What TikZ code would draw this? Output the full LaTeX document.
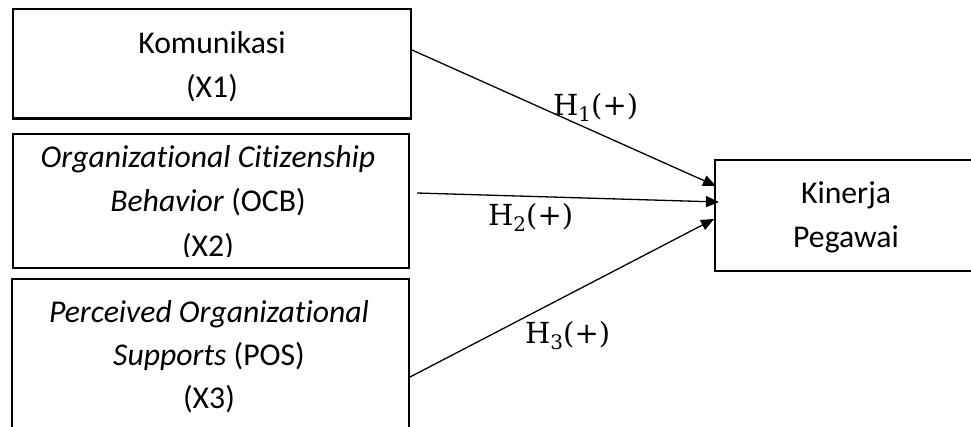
\documentclass[tikz,border=0pt]{standalone}
\usepackage{fontspec}
\setmainfont{Carlito}[Ligatures={NoCommon}]
\newfontfamily\hfont{DejaVu Serif}
\usetikzlibrary{arrows.meta}
\tikzset{
  box/.style={draw, line width=2.6pt, rectangle, inner sep=0pt, outer sep=0pt},
  txt/.style={anchor=base, inner sep=0pt, font=\fontsize{31.7}{44}\selectfont},
  hyp/.style={anchor=base west, inner sep=0pt, font=\hfont\fontsize{29}{34}\selectfont},
  arr/.style={line width=1.3pt, -{Triangle[length=13pt,width=11pt]}}
}
\newcommand{\hsub}[1]{H\raisebox{-6pt}{\fontsize{20}{24}\selectfont #1}(+)}
\begin{document}
\begin{tikzpicture}[x=1pt,y=-1pt]
\useasboundingbox (0,0) rectangle (971,426);
\clip (0,0) rectangle (971,426);
% boxes
\node[box, minimum width=398pt, minimum height=109.5pt] (b1) at (212,63.75) {};
\node[box, minimum width=396pt, minimum height=134pt] (b2) at (211,201) {};
\node[box, minimum width=397pt, minimum height=181pt] (b3) at (210.5,369.5) {};
\node[box, minimum width=270pt, minimum height=111pt] (k) at (850,215.5) {};
% texts
\node[txt] (t1a) at (212,53) {Komunikasi};
\node[txt] (t1b) at (212,97) {(X1)};
\begin{scope}
\clip (13,134) rectangle (409,256);
\node[txt] (t2a) at (208,167) {\itshape Organizational Citizenship};
\node[txt] (t2b) at (208,211) {\textit{Behavior} (OCB)};
\node[txt] (t2c) at (208,256.5) {(X2)};
\end{scope}
\node[txt] (t3a) at (209,322) {\itshape Perceived Organizational};
\node[txt] (t3b) at (209,365) {\textit{Supports} (POS)};
\node[txt] (t3c) at (209,408) {(X3)};
\node[txt] (tka) at (846,203) {Kinerja};
\node[txt] (tkb) at (846,247) {Pegawai};
% connectors
\coordinate (s1) at (412,50);
\coordinate (s2) at (417,193);
\coordinate (s3) at (410,377);
\coordinate (e1) at (716,186);
\coordinate (e2) at (719,202);
\coordinate (e3) at (714,219);
\draw[arr] (s1) -- (e1);
\draw[arr] (s2) -- (e2);
\draw[arr] (s3) -- (e3);
% labels
\node[hyp] (h1) at (553,115) {\hsub{1}};
\node[hyp] (h2) at (488,225) {\hsub{2}};
\node[hyp] (h3) at (525,343) {\hsub{3}};
\end{tikzpicture}
\end{document}
